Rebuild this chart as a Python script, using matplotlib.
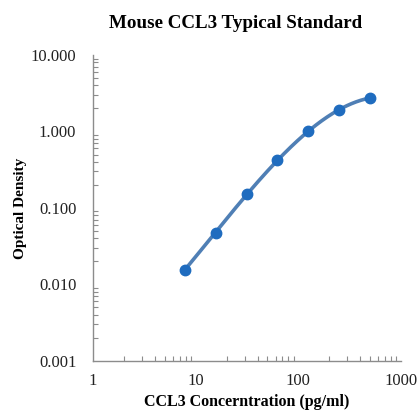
import numpy as np
import matplotlib.pyplot as plt
from matplotlib.ticker import LogLocator, FixedLocator, NullFormatter

# standard curve data
conc = [7.8, 15.6, 31.25, 62.5, 125, 250, 500]
od = [0.0155, 0.047, 0.151, 0.42, 1.0, 1.93, 2.75]
yticks = [0.001, 0.01, 0.1, 1, 10]
ytick_labels = ['0.001', '0.010', '0.100', '1.000', '10.000']
xticks = [1, 10, 100, 1000]
xtick_labels = ['1', '10', '100', '1000']

plt.rcParams['font.family'] = ['Liberation Serif', 'DejaVu Serif']

fig = plt.figure(figsize=(4.18, 4.12), dpi=100)
ax = fig.add_axes([0.2225, 0.124, 0.737, 0.7425])

# smooth trend in log-log space (cubic fit)
lx = np.log10(conc)
ly = np.log10(od)
coef = np.polyfit(lx, ly, 3)
xs = np.linspace(lx[0], lx[-1], 200)
ax.plot(10**xs, 10**np.polyval(coef, xs), color='#4f7fb5', lw=2.6, zorder=2)
ax.plot(conc, od, 'o', color='#1f6cbf', markersize=7.5, zorder=3)

ax.set_xscale('log')
ax.set_yscale('log')
ax.set_xlim(1, 1000)
ax.set_ylim(0.001, 10)

ax.xaxis.set_major_locator(FixedLocator(xticks))
ax.set_xticklabels(xtick_labels)
ax.yaxis.set_major_locator(FixedLocator(yticks))
ax.set_yticklabels(ytick_labels)
ax.xaxis.set_minor_locator(LogLocator(base=10, subs=np.arange(2, 10)))
ax.yaxis.set_minor_locator(LogLocator(base=10, subs=np.arange(2, 10)))
ax.xaxis.set_minor_formatter(NullFormatter())
ax.yaxis.set_minor_formatter(NullFormatter())

for s in ['top', 'right']:
    ax.spines[s].set_visible(False)
for s in ['left', 'bottom']:
    ax.spines[s].set_color('#8c8c8c')
    ax.spines[s].set_linewidth(1.0)

ax.tick_params(which='major', direction='in', length=0, labelsize=12, colors='#8c8c8c', labelcolor='#222222')
ax.tick_params(axis='y', which='major', pad=12)
ax.tick_params(axis='x', which='major', pad=9)
ax.tick_params(which='minor', direction='in', length=3.5, width=0.8, colors='#8c8c8c')

fig.text(236 / 418, 1 - 24 / 412, 'Mouse CCL3 Typical Standard', fontsize=13.7,
         fontweight='bold', ha='center', va='center')
ax.set_xlabel('CCL3 Concerntration (pg/ml)', fontsize=11.5, fontweight='bold', labelpad=3)
ax.set_ylabel('Optical Density', fontsize=11, fontweight='bold', labelpad=3)

fig.savefig('out.png', dpi=100)
